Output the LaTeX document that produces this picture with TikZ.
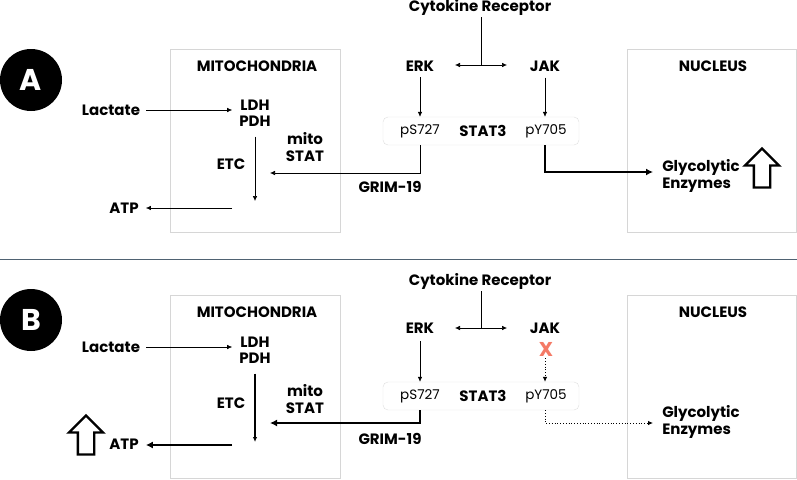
\documentclass[tikz,border=0pt]{standalone}
\usepackage{fontspec}
\setmainfont{Poppins}
\usetikzlibrary{arrows.meta,shapes.arrows}
\definecolor{boxgray}{HTML}{D6D6D6}
\definecolor{sepline}{HTML}{4F6272}
\definecolor{xred}{HTML}{F47A66}

\begin{document}
\begin{tikzpicture}[x=1pt,y=-1pt,
    >={Latex[length=5pt,width=4.5pt]},
    lbl/.style={font=\bfseries\fontsize{15}{16.5}\selectfont, align=center, inner sep=2pt},
    site/.style={font=\fontsize{13.5}{14}\selectfont, inner sep=1pt},
    compart/.style={draw=boxgray, line width=0.8pt},
    stat/.style={draw=boxgray!80, rounded corners=5pt, minimum width=196pt, minimum height=28pt, inner sep=0pt},
    thin/.style={->, line width=0.6pt},
    mid/.style={->, line width=1.2pt},
    heavy/.style={-{Latex[length=7pt,width=7pt]}, line width=2.2pt},
    dots/.style={->, line width=0.8pt, dotted},
    uparrow/.style={single arrow, draw, line width=2.3pt, shape border rotate=90, minimum height=39pt, inner sep=7pt, single arrow head extend=9pt},
    badge/.style={circle, fill=black, text=white, minimum size=62pt, inner sep=0pt, font=\bfseries\fontsize{30}{30}\selectfont}
  ]
  \useasboundingbox (0,0) rectangle (797,479);

  % panel A
  \node[badge] (badgeA) at (31,80) {A};
  \draw[compart] (170,49) rectangle (340,232);
  \draw[compart] (627,49) rectangle (796,232);
  \node[lbl] (mitoA) at (257,66) {MITOCHONDRIA};
  \node[lbl] (nucA) at (713,66) {NUCLEUS};

  \node[lbl] (recA) at (480,7) {Cytokine Receptor};
  \node[lbl] (erkA) at (420,66) {ERK};
  \node[lbl] (jakA) at (545,66) {JAK};
  \coordinate (forkA) at (481,65);
  \coordinate (erkinA) at (455,65);
  \coordinate (jakinA) at (507,65);
  \draw[line width=0.6pt] (recA.south -| forkA) -- (forkA);
  \draw[thin,<->] (erkinA) -- (jakinA);

  \node[stat] (statA) at (481,131) {};
  \node[site] (psA) at (420,131) {pS727};
  \node[lbl] (stA) at (483,131) {STAT3};
  \node[site] (pyA) at (546,131) {pY705};
  \draw[thin,shorten <=4pt] (erkA.south) -- (psA |- statA.north);
  \draw[thin,shorten <=4pt] (jakA.south) -- (jakA |- statA.north);

  \node[lbl] (lacA) at (111,110) {Lactate};
  \node[lbl] (ldhA) at (255,113) {LDH\\PDH};
  \node[lbl] (etcA) at (231,164) {ETC};
  \node[lbl] (mstA) at (305,147) {mito\\STAT};
  \node[lbl] (grimA) at (390,187) {GRIM-19};
  \node[lbl] (atpA) at (124,208) {ATP};
  \coordinate (etcendA) at (255,201);
  \coordinate (mitoinA) at (270,173);
  \coordinate (atpoutA) at (232,208);
  \draw[thin,shorten <=4pt,shorten >=5pt] (lacA.east) -- (lacA.east -| ldhA.west);
  \draw[thin,shorten <=8pt] (ldhA.south) -- (etcendA);
  \draw[thin] (psA |- statA.south) |- (mitoinA);
  \draw[thin,shorten >=5pt] (atpoutA) -- (atpoutA -| atpA.east);

  \node[lbl,align=left] (gluA) at (701,176) {Glycolytic\\Enzymes};
  \coordinate (gluinA) at (653,172);
  \draw[heavy] (jakA |- statA.south) |- (gluinA);
  \node[uparrow] (upA) at (762,172) {};

  \draw[sepline, line width=1pt] (0,259) -- (797,259);

  % panel B
  \node[badge] (badgeB) at (31,320) {B};
  \draw[compart] (170,295) rectangle (340,478);
  \draw[compart] (627,295) rectangle (796,478);
  \node[lbl] (mitoB) at (257,312) {MITOCHONDRIA};
  \node[lbl] (nucB) at (713,312) {NUCLEUS};

  \node[lbl] (recB) at (480,281) {Cytokine Receptor};
  \node[lbl] (erkB) at (420,328) {ERK};
  \node[lbl] (jakB) at (545,328) {JAK};
  \coordinate (forkB) at (481,328);
  \coordinate (erkinB) at (455,328);
  \coordinate (jakinB) at (507,328);
  \draw[line width=0.6pt] (recB.south -| forkB) -- (forkB);
  \draw[thin,<->] (erkinB) -- (jakinB);

  \node[stat] (statB) at (481,396) {};
  \node[site] (psB) at (420,396) {pS727};
  \node[lbl] (stB) at (483,396) {STAT3};
  \node[site] (pyB) at (546,396) {pY705};
  \draw[thin,shorten <=6pt] (erkB.south) -- (psB |- statB.north);
  \node[text=xred, font=\bfseries\fontsize{20}{20}\selectfont, inner sep=0pt] (xB) at (546,349) {X};
  \draw[dots,shorten <=2pt] (xB.south -| jakB) -- (jakB |- statB.north);

  \node[lbl] (lacB) at (111,347) {Lactate};
  \node[lbl] (ldhB) at (255,350) {LDH\\PDH};
  \node[lbl] (etcB) at (231,403) {ETC};
  \node[lbl] (mstB) at (305,399) {mito\\STAT};
  \node[lbl] (grimB) at (390,439) {GRIM-19};
  \node[lbl] (atpB) at (124,444) {ATP};
  \coordinate (etcendB) at (255,442);
  \coordinate (mitoinB) at (270,423);
  \coordinate (atpoutB) at (232,445);
  \draw[thin,shorten <=4pt,shorten >=5pt] (lacB.east) -- (lacB.east -| ldhB.west);
  \draw[mid,shorten <=8pt] (ldhB.south) -- (etcendB);
  \draw[heavy] (psB |- statB.south) |- (mitoinB);
  \draw[heavy,shorten >=5pt] (atpoutB) -- (atpoutB -| atpB.east);
  \node[uparrow] (upB) at (86,439) {};

  \node[lbl,align=left] (gluB) at (701,422) {Glycolytic\\Enzymes};
  \coordinate (gluinB) at (653,423);
  \draw[dots] (jakB |- statB.south) |- (gluinB);
\end{tikzpicture}
\end{document}
